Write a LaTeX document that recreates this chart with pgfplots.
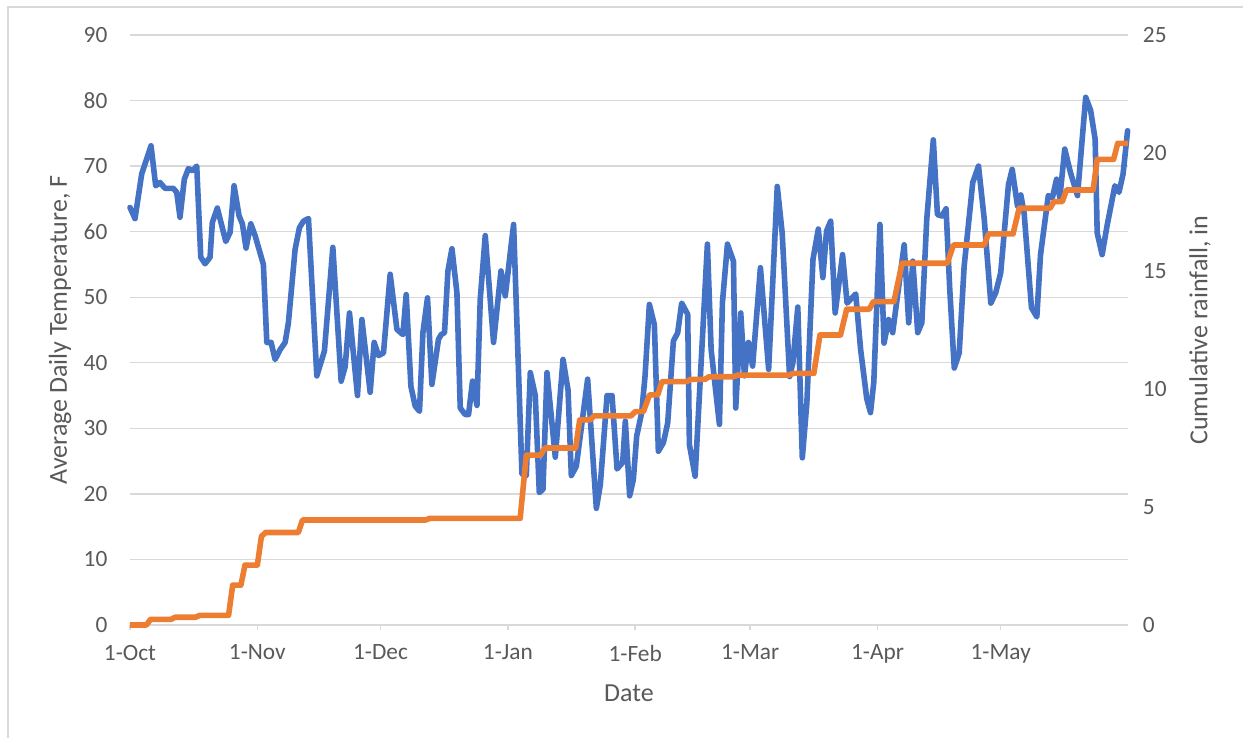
\documentclass[border=0pt]{standalone}
\usepackage{fontspec}
\setmainfont{Carlito}
\usepackage{pgfplots}
\pgfplotsset{compat=1.18}
\definecolor{tblue}{HTML}{4472C4}
\definecolor{torange}{HTML}{ED7D31}
\definecolor{gridc}{HTML}{D9D9D9}
\definecolor{txt}{HTML}{595959}
\pgfplotsset{
  common/.style={
    scale only axis, width=748.5pt, height=442.5pt,
    xmin=0, xmax=243, clip=false,
    tick label style={font=\fontsize{17.5}{21}\selectfont, text=txt},
    label style={font=\fontsize{19.5}{23}\selectfont, text=txt},
    /pgf/number format/assume math mode=true,
  }
}
\begin{document}
\begin{tikzpicture}
\path[use as bounding box] (-97.5pt,-84.75pt) rectangle (834.75pt,468.75pt);
\draw[gridc, line width=1pt] (-91.5pt,-84.75pt) -- (-91.5pt,463.5pt) -- (834.75pt,463.5pt);
\begin{axis}[common,
  ymin=0, ymax=90,
  axis x line*=bottom, axis y line*=left,
  y axis line style={draw=none},
  x axis line style={gridc, line width=1pt},
  ytick={0,10,...,90},
  ymajorgrids, grid style={gridc, line width=1pt},
  xtick={0,31,61,92,123,151,182,212},
  xticklabels={1-Oct,1-Nov,1-Dec,1-Jan,1-Feb,1-Mar,1-Apr,1-May},
  tick align=outside,
  x tick style={gridc, line width=1pt},
  y tick style={draw=none},
  major tick length=3.75pt,
  yticklabel style={anchor=east, inner sep=0pt, xshift=-13pt},
  xticklabel style={anchor=north, inner sep=0pt, yshift=-11pt},
  xlabel=Date, ylabel={Average Daily Temperature, F},
  xlabel style={at={(axis description cs:0.5,-0.1153)}, anchor=center},
  ylabel style={at={(axis description cs:-0.0701,0.5)}, anchor=center, rotate=0},
]
\addplot[tblue, line width=4.2pt, line join=round, line cap=round] coordinates {
(0,63.7)(1.22,62.0)(2.85,68.8)(5.12,73.1)(6.26,67.0)(7.31,67.5)(8.53,66.6)(10.55,66.6)(11.38,66.0)(12.18,62.2)(13.23,68.0)(14.21,69.6)(15.28,69.3)(16.25,70.0)(17.23,56.1)(18.27,55.1)(19.49,56.1)(20.05,61.4)(21.27,63.6)(23.32,58.5)(24.37,59.9)(25.34,67.0)(26.56,62.4)(27.36,61.2)(28.26,57.5)(29.41,61.2)(30.46,59.4)(32.48,55.0)(33.31,43.1)(34.36,43.1)(35.33,40.5)(36.55,42.0)(37.77,43.1)(38.57,46.1)(40.2,57.3)(41.25,60.6)(42.23,61.6)(43.45,62.0)(45.49,38.0)(47.34,41.8)(49.39,57.6)(51.41,37.2)(52.39,39.4)(53.44,47.6)(55.39,35.0)(56.46,46.6)(58.48,35.5)(59.45,43.1)(60.5,41.1)(61.72,41.5)(63.35,53.5)(64.99,45.1)(66.45,44.3)(67.25,50.4)(68.4,36.4)(69.44,33.4)(70.49,32.6)(71.32,44.6)(72.44,49.9)(73.51,36.7)(75.12,43.6)(75.78,44.3)(76.58,44.6)(77.41,54.0)(78.39,57.4)(79.6,50.7)(80.41,33.1)(81.63,32.1)(82.43,32.1)(83.4,37.2)(84.48,33.5)(85.28,49.7)(86.5,59.4)(88.52,43.1)(90.33,54.0)(91.37,50.2)(93.4,61.1)(95.44,23.0)(96.49,22.8)(97.47,38.5)(98.68,35.0)(99.66,20.2)(100.56,20.7)(101.53,38.5)(103.56,25.6)(105.43,40.5)(106.65,35.9)(107.46,22.8)(108.67,24.2)(111.43,37.5)(113.55,17.8)(114.52,21.4)(116.16,35.0)(117.37,35.0)(118.59,23.8)(119.96,24.8)(120.61,31.1)(121.66,19.7)(122.56,22.2)(123.37,28.8)(124.59,32.4)(125.41,38.0)(126.46,48.9)(127.68,45.8)(128.65,26.5)(129.87,27.8)(130.92,30.8)(132.31,43.3)(133.36,44.6)(134.33,49.1)(135.79,47.4)(136.21,27.5)(137.6,22.7)(140.59,58.1)(141.5,42.0)(143.52,30.6)(144.25,49.2)(145.47,58.1)(146.93,55.5)(147.49,33.1)(148.71,47.6)(149.61,38.0)(150.58,43.1)(151.6,39.5)(153.5,54.5)(155.5,39.0)(157.6,66.9)(158.8,59.8)(160.6,37.9)(161.4,40.0)(162.6,48.5)(163.7,25.5)(164.8,33.8)(166.3,55.8)(167.6,60.4)(168.7,53.0)(169.6,60.1)(170.6,61.6)(171.7,47.6)(173.5,56.5)(174.6,49.1)(176.7,50.5)(177.9,42.0)(179.4,34.5)(180.3,32.4)(181.1,37.0)(182.6,61.1)(183.6,43.0)(184.7,46.6)(185.7,44.6)(188.5,58.0)(189.6,46.1)(190.6,55.5)(191.8,44.6)(192.8,46.1)(194.0,61.9)(195.6,74.0)(196.6,62.6)(197.7,62.4)(198.7,63.5)(199.6,51.2)(200.7,39.2)(201.9,41.5)(203.1,54.7)(205.2,67.5)(206.6,70.0)(208.0,61.9)(209.6,49.1)(210.8,50.7)(212.0,53.7)(213.9,67.2)(214.8,69.5)(216.1,63.9)(216.9,65.6)(217.7,62.9)(219.5,48.4)(220.8,47.0)(221.7,56.5)(223.6,65.5)(224.6,65.2)(225.6,68.0)(226.4,65.2)(227.6,72.6)(229.0,69.0)(230.7,65.5)(232.7,80.5)(233.9,78.5)(235.0,74.1)(235.5,59.8)(236.7,56.5)(237.9,60.9)(239.8,67.0)(240.8,66.0)(241.8,68.8)(242.9,75.4)
};
\end{axis}
\begin{axis}[common,
  ymin=0, ymax=25,
  axis x line=none, axis y line*=right,
  y axis line style={draw=none},
  ytick={0,5,...,25},
  y tick style={draw=none},
  major tick length=3.75pt,
  yticklabel style={anchor=west, inner sep=0pt, xshift=11pt},
  ylabel={Cumulative rainfall, in},
  ylabel style={at={(axis description cs:1.0721,0.5)}, anchor=center, rotate=0},
]
\addplot[torange, line width=4.2pt, line join=round] coordinates {
(0,0)(4,0)(5,0.24)(10,0.24)(11,0.33)(16,0.33)(17,0.41)(24,0.41)(25,1.69)(27,1.69)(28,2.54)(31,2.54)(32,3.75)(33,3.92)(41,3.92)(42,4.45)(72,4.45)(73,4.52)(95,4.52)(96.5,7.2)(100,7.2)(101,7.5)(108.5,7.5)(109.5,8.69)(112,8.69)(113,8.86)(122,8.86)(123,9.04)(125,9.04)(126.5,9.75)(128.5,9.75)(129.5,10.31)(135.5,10.31)(136.5,10.41)(140,10.41)(141,10.52)(147,10.52)(148,10.59)(160.5,10.59)(161.5,10.66)(166.5,10.66)(168,12.29)(173,12.29)(174.5,13.38)(180,13.38)(181,13.70)(186,13.70)(188,15.33)(199,15.33)(200.5,16.10)(208,16.10)(209,16.57)(215,16.57)(216.5,17.66)(224,17.66)(225,17.94)(227,17.94)(228,18.43)(234.5,18.43)(235.5,19.73)(239.5,19.73)(240.5,20.41)(243,20.41)
};
\end{axis}
\end{tikzpicture}
\end{document}
